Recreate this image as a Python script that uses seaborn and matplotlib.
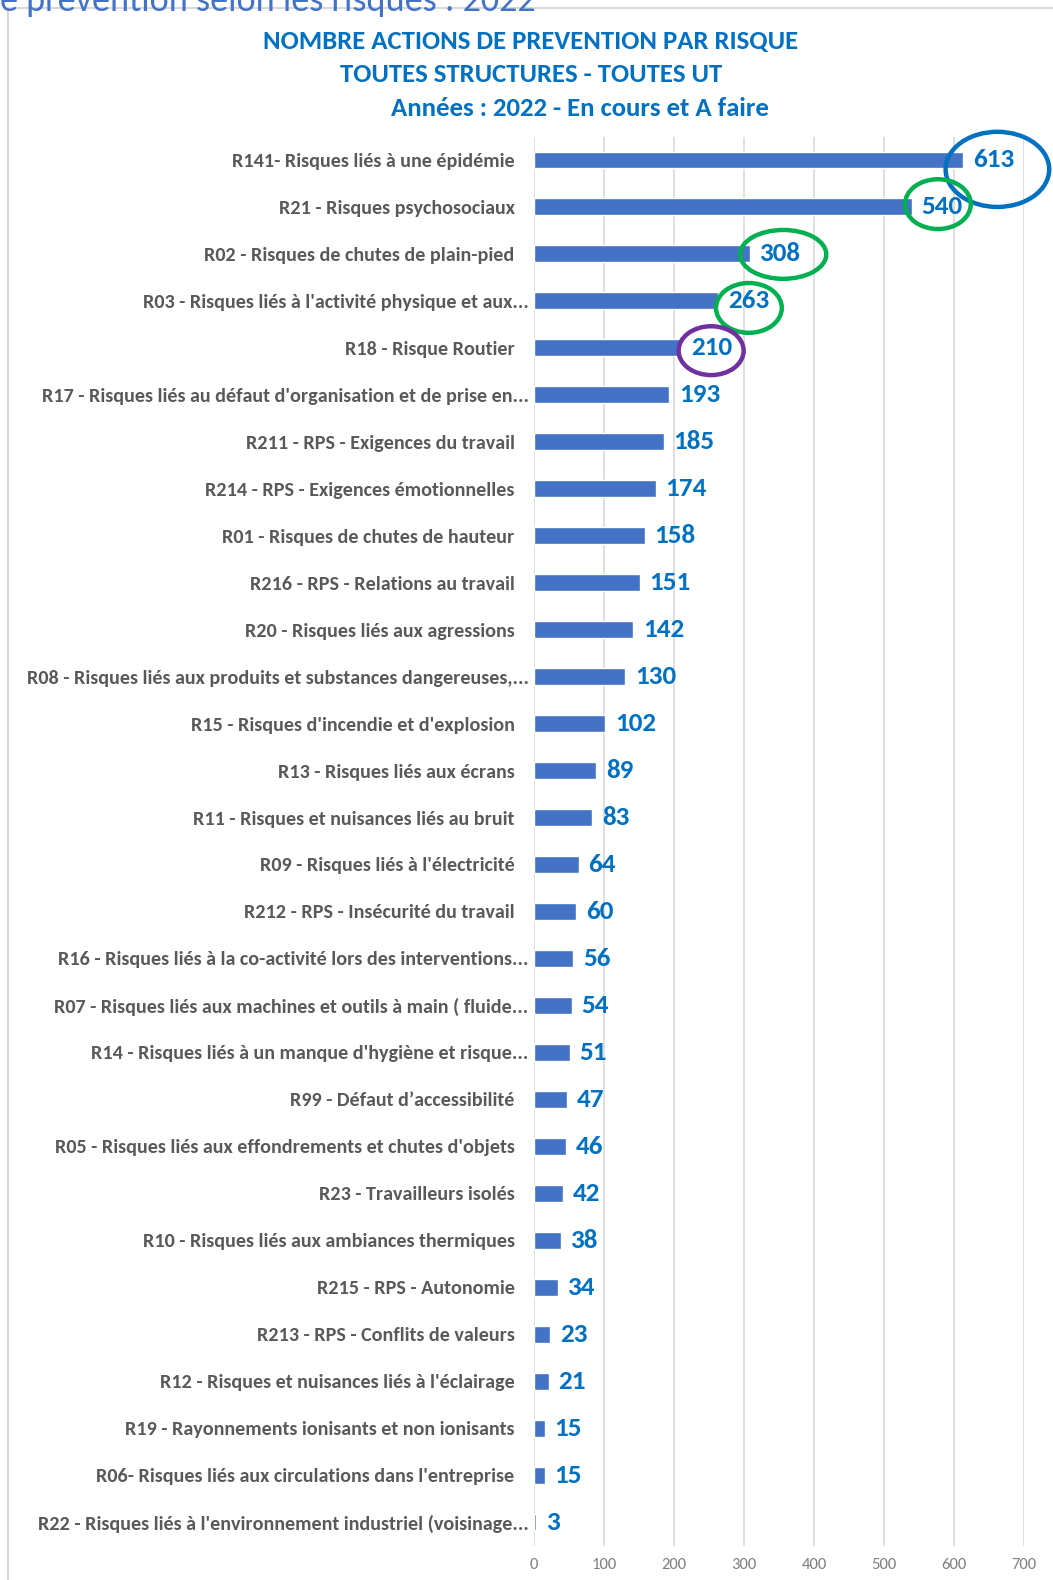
import matplotlib
matplotlib.use("Agg")
import matplotlib.pyplot as plt
import matplotlib.transforms as mtransforms
import seaborn as sns
from matplotlib import font_manager
from matplotlib.patches import Ellipse

CATEGORIES = [
    "R141- Risques liés à une épidémie",
    "R21 - Risques psychosociaux",
    "R02 - Risques de chutes de plain-pied",
    "R03 - Risques liés à l'activité physique et aux...",
    "R18 - Risque Routier",
    "R17 - Risques liés au défaut d'organisation et de prise en...",
    "R211 - RPS - Exigences du travail",
    "R214 - RPS - Exigences émotionnelles",
    "R01 - Risques de chutes de hauteur",
    "R216 - RPS - Relations au travail",
    "R20 - Risques liés aux agressions",
    "R08 - Risques liés aux produits et substances dangereuses,...",
    "R15 - Risques d'incendie et d'explosion",
    "R13 - Risques liés aux écrans",
    "R11 - Risques et nuisances liés au bruit",
    "R09 - Risques liés à l'électricité",
    "R212 - RPS - Insécurité du travail",
    "R16 - Risques liés à la co-activité lors des interventions...",
    "R07 - Risques liés aux machines et outils à main ( fluide...",
    "R14 - Risques liés à un manque d'hygiène et risque...",
    "R99 - Défaut d\u2019accessibilité",
    "R05 - Risques liés aux effondrements et chutes d'objets",
    "R23 - Travailleurs isolés",
    "R10 - Risques liés aux ambiances thermiques",
    "R215 - RPS - Autonomie",
    "R213 - RPS - Conflits de valeurs",
    "R12 - Risques et nuisances liés à l'éclairage",
    "R19 - Rayonnements ionisants et non ionisants",
    "R06- Risques liés aux circulations dans l'entreprise",
    "R22 - Risques liés à l'environnement industriel (voisinage...",
]
COUNTS = [613, 540, 308, 263, 210, 193, 185, 174, 158, 151, 142, 130, 102,
          89, 83, 64, 60, 56, 54, 51, 47, 46, 42, 38, 34, 23, 21, 15, 15, 3]

TITLE_LINES = ["NOMBRE ACTIONS DE PREVENTION PAR RISQUE",
               "TOUTES STRUCTURES - TOUTES UT",
               "Années : 2022 - En cours et A faire"]
HEADER = "e prévention selon les risques : 2022"

# hand-drawn circles: bar index, colour
HIGHLIGHTS = [(0, "#0070C0"), (1, "#00B050"), (2, "#00B050"), (3, "#00B050"), (4, "#7030A0")]

BAR_COLOR = "#4472C4"
LABEL_BLUE = "#0070C0"

available = {f.name for f in font_manager.fontManager.ttflist}
narrow = next((f for f in ["Carlito", "Liberation Sans Narrow", "Roboto Condensed", "Lato"]
               if f in available), "DejaVu Sans")

sns.set_style("white")
plt.rcParams['font.family'] = [narrow, 'DejaVu Sans']

df = {"risque": CATEGORIES, "nombre": COUNTS}

fig = plt.figure(figsize=(10.53, 15.80), dpi=100)
ax = fig.add_axes([534 / 1053, 1 - 1545.5 / 1580, 490 / 1053, 1409 / 1580])

sns.barplot(data=df, x="nombre", y="risque", color=BAR_COLOR, width=0.36,
            saturation=1, ax=ax, zorder=3)

ax.set_xlim(0, 700)
ax.set_ylim(29.5, -0.5)
ax.set_xticks(range(0, 701, 100))
ax.grid(axis="x", color="#D9D9D9", linewidth=1.2, zorder=0)
ax.set_axisbelow(True)
for s in ax.spines.values():
    s.set_visible(False)
ax.set_xlabel("")
ax.set_ylabel("")
ax.tick_params(axis="y", length=0, pad=14, labelsize=14.5, labelcolor="#595959")
ax.tick_params(axis="x", length=0, pad=9, labelsize=12, labelcolor="#808080")
# Excel lets the truncated labels ("...") run closer to the axis
shift = mtransforms.ScaledTranslation(14 / 100, 0, fig.dpi_scale_trans)
for t in ax.get_yticklabels():
    t.set_fontweight("bold")
    if t.get_text().endswith("..."):
        t.set_transform(t.get_transform() + shift)

ax.bar_label(ax.containers[0], padding=7, color=LABEL_BLUE, fontsize=19.5,
             fontweight="bold")

# circles around the highlighted values (centre x, centre y, width, height)
ell = {0: (662, 0.2, 148, 1.6), 1: (577, 0.94, 94, 1.06), 2: (356, 2.01, 123, 1.04),
       3: (307, 3.15, 94, 1.06), 4: (253, 4.06, 93, 1.04)}
for idx, col in HIGHLIGHTS:
    cx, cy, w, h = ell[idx]
    ax.add_patch(Ellipse((cx, cy), w, h, fill=False, edgecolor=col, linewidth=3.2,
                         zorder=5, clip_on=False))

# chart frame
fig.add_artist(plt.Line2D([8 / 1053, 1], [1 - 8 / 1580, 1 - 8 / 1580], color="#D9D9D9", lw=1.5))
fig.add_artist(plt.Line2D([8 / 1053, 8 / 1053], [0, 1 - 8 / 1580], color="#D9D9D9", lw=1.5))

fig.text(0, 1 - 1 / 1580, HEADER, ha="left", va="center", fontsize=26, color="#4472C4")
title_pos = [(531, 41), (531, 74), (580, 108)]
for (tx, ty), line in zip(title_pos, TITLE_LINES):
    fig.text(tx / 1053, 1 - ty / 1580, line, ha="center", va="center", fontsize=19.3,
             fontweight="bold", color=LABEL_BLUE)

fig.savefig("out.png", dpi=100)
